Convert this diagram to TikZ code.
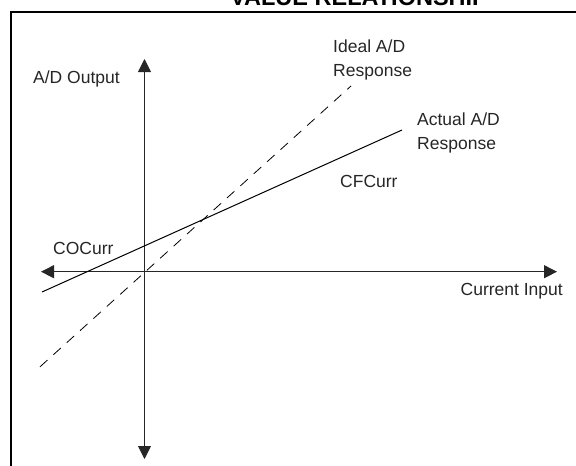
\documentclass[tikz,border=0pt]{standalone}
\usepackage{fontspec}
\setmainfont{Liberation Sans}
\usetikzlibrary{arrows.meta, positioning}
\usetikzlibrary{calc}

\tikzset{
	axis/.style={line width=0.9pt, black!85, -{Triangle[length=13pt,width=13pt]}},
	lbl/.style={inner sep=0pt, font=\fontsize{17.5}{24}\selectfont, text=black!85},
	ideal/.style={line width=0.8pt, dash pattern=on 10pt off 8pt},
	actual/.style={line width=1pt}
}

\begin{document}
\begin{tikzpicture}[x=1pt,y=-1pt]
				\useasboundingbox (0,0) rectangle (576,466);
				% frame (only top and left edges show)
				\draw[line width=2pt] (11,466) -- (11,12) -- (577,12);
				\node[anchor=base west, inner sep=0pt, font=\fontsize{23.5}{28}\selectfont\bfseries] (title) at (230,5) {VALUE RELATIONSHIP};
				% axes
				\coordinate (o) at (144.5,271.7);
				\coordinate (ytop) at (144.5,59);
				\coordinate (ybot) at (144.5,459);
				\coordinate (xleft) at (41,271.7);
				\coordinate (xright) at (557,271.7);
				\draw[axis] (o) -- (ytop);
				\draw[axis] (o) -- (ybot);
				\draw[axis] (o) -- (xleft);
				\draw[axis] (o) -- (xright);
				% responses
				\coordinate (id1) at (40,366.8);
				\coordinate (id2) at (351,86);
				\coordinate (ac1) at (42,292);
				\coordinate (ac2) at (402,130);
				\draw[ideal] (id1) -- (id2);
				\draw[actual] (ac1) -- (ac2);
				% labels
				\node[lbl, anchor=base west] (yname) at (33,83) {A/D Output};
				\node[lbl, anchor=north west, align=left] (idname) at (333,40) {Ideal A/D\\Response};
				\node[lbl, anchor=north west, align=left] (acname) at (417,113) {Actual A/D\\Response};
				\node[lbl, anchor=base west] (cf) at (340,187) {CFCurr};
				\node[lbl, anchor=base west] (co) at (53,254) {COCurr};
				\node[lbl, anchor=base east] (xname) at (563,295) {Current Input};
			\end{tikzpicture}
\end{document}
